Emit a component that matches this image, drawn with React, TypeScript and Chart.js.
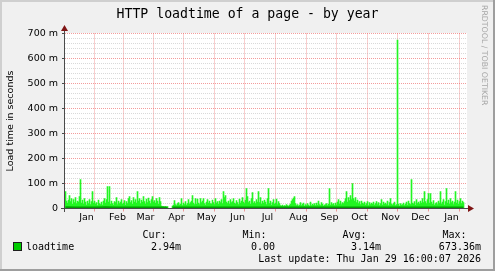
import React, { useEffect, useRef } from "react";
import { Chart, registerables } from "chart.js";

Chart.register(...registerables);

const W = 495;
const H = 271;

const TITLE = "HTTP loadtime of a page - by year";
const Y_AXIS_TITLE = "Load time in seconds";
const WATERMARK = "RRDTOOL / TOBI OETIKER";

// day numbers counted from 26 Dec 2024
const MONTH_START_DAYS = [6, 37, 65, 96, 126, 157, 187, 218, 249, 279, 310, 340, 371, 402];
const MONTH_LABELS = ["Jan", "Feb", "Mar", "Apr", "May", "Jun", "Jul", "Aug", "Sep", "Oct", "Nov", "Dec", "Jan"];
const X_MAX_DAY = 402;

const Y_MAX = 700;
const Y_STEP = 20;
const Y_MAJOR = 100;

// daily maximum load time (ms), day 0 = 26 Dec 2024
const MAX_LOADTIME: (number | null)[] = [
  68, 30, 22, 34, 52, 28, 40, 18, 36, 24,
  44, 20, 30, 26, 48, 116, 22, 34, 18, 40,
  26, 14, 30, 20, 36, 16, 28, 68, 22, 30,
  18, 24, 12, 34, 20, 16, 26, 14, 30, 40,
  22, 36, 88, 26, 88, 18, 30, 20, 14, 28,
  24, 44, 16, 30, 20, 26, 36, 18, 22, 32,
  14, 28, 20, 40, 48, 24, 32, 18, 44, 26,
  36, 22, 68, 30, 40, 20, 34, 26, 48, 28,
  18, 38, 24, 42, 30, 20, 36, 48, 26, 32,
  22, 40, 30, 18, 44, 28, 10, 8, 8, 6,
  8, 6, 8, null, null, null, null, 10, 14, 32,
  16, 12, 20, 24, 14, 18, 40, 12, 22, 16,
  28, 14, 20, 36, 18, 24, 30, 52, 22, 16,
  40, 18, 38, 22, 16, 40, 24, 30, 40, 20,
  14, 26, 36, 22, 30, 20, 18, 34, 24, 16,
  40, 22, 28, 18, 30, 24, 36, 20, 68, 44,
  52, 26, 20, 30, 18, 36, 24, 28, 40, 22,
  18, 32, 24, 16, 38, 22, 30, 44, 26, 20,
  34, 80, 48, 24, 30, 18, 40, 64, 22, 28,
  20, 36, 26, 68, 24, 44, 18, 30, 22, 34,
  26, 16, 40, 80, 20, 30, 14, 24, 36, 18,
  22, 38, 16, 28, 20, 12, 10, 14, 8, 12,
  10, 16, 12, 8, 14, 18, 30, 36, 42, 48,
  20, 12, 16, 10, 14, 24, 12, 18, 22, 10,
  16, 12, 20, 14, 10, 26, 12, 18, 14, 20,
  12, 22, 14, 30, 16, 12, 24, 18, 10, 14,
  16, 20, 12, 18, 80, 14, 24, 16, 20, 12,
  22, 14, 26, 36, 18, 30, 16, 24, 20, 28,
  40, 68, 26, 44, 32, 52, 36, 100, 40, 30,
  44, 24, 34, 20, 28, 16, 30, 22, 18, 26,
  14, 20, 28, 12, 24, 16, 22, 18, 26, 14,
  20, 28, 16, 24, 12, 20, 36, 14, 26, 18,
  22, 16, 30, 12, 24, 40, 18, 14, 20, 26,
  12, 16, 673.36, 18, 10, 20, 14, 16, 22, 12,
  18, 26, 14, 30, 20, 16, 116, 22, 18, 28,
  14, 36, 20, 26, 18, 30, 22, 40, 24, 68,
  28, 20, 36, 60, 22, 60, 26, 18, 32, 14,
  20, 24, 16, 30, 22, 68, 18, 26, 36, 14,
  28, 80, 22, 34, 18, 40, 24, 30, 16, 26,
  68, 22, 34, 18, 28, 40, 20, 30, 24,
];

// average load time (ms)
const AVG_DAYS = [0, 10, 20, 30, 40, 50, 60, 70, 80, 90, 100, 102, 104, 107,
  110, 120, 130, 140, 150, 160, 170, 180, 190, 200, 210, 220, 230, 240, 250, 260,
  270, 280, 290, 300, 310, 320, 330, 340, 350, 360, 370, 380, 390, 398];
const AVG_LOADTIME: (number | null)[] = [3.6, 3.3, 3.1, 3.4, 3.7, 3.2, 3.3, 3.5, 3.4, 3.1, 2.6, 2.4, null, 2.7,
  2.9, 3.0, 3.2, 3.0, 3.1, 3.3, 3.0, 3.4, 3.2, 3.1, 2.9, 2.7, 2.8, 2.6, 2.8, 2.9,
  3.0, 3.5, 3.3, 3.0, 2.9, 3.0, 3.1, 3.2, 3.0, 3.3, 3.1, 3.2, 3.0, 2.94];

const LEGEND_SERIES = "loadtime";
const LEGEND_HEADERS = ["Cur:", "Min:", "Avg:", "Max:"];
const LEGEND_VALUES = ["2.94m", "0.00", "3.14m", "673.36m"];
const LAST_UPDATE = "Last update: Thu Jan 29 16:00:07 2026";

const MAX_COLOR = "#22F522";
const AVG_COLOR = "#00A000";
const MGRID = "rgba(235, 90, 90, 0.6)";
const GRID = "rgba(170, 170, 170, 0.45)";
const AXIS_COLOR = "#4A4A4A";
const ARROW_COLOR = "#7F1515";

const MONO = "'DejaVu Sans Mono', monospace";
const SANS = "'DejaVu Sans', sans-serif";

export default function App() {
  const ref = useRef<HTMLCanvasElement | null>(null);

  useEffect(() => {
    if (!ref.current) return;
    const midDays = MONTH_START_DAYS.slice(0, MONTH_LABELS.length).map((d) => d + 15.5);
    const labelByValue = new Map<number, string>();
    midDays.forEach((d, i) => labelByValue.set(d, MONTH_LABELS[i]));
    const startSet = new Set(MONTH_START_DAYS);

    const decor = {
      id: "rrdDecor",
      beforeDraw(chart: any) {
        const { ctx, chartArea: ca } = chart;
        ctx.save();
        ctx.fillStyle = "#F0F0F0";
        ctx.fillRect(0, 0, W, H);
        ctx.fillStyle = "#CFCFCF";
        ctx.fillRect(0, 0, W, 2);
        ctx.fillRect(0, 0, 2, H);
        ctx.fillStyle = "#9E9E9E";
        ctx.fillRect(0, H - 2, W, 2);
        ctx.fillRect(W - 2, 0, 2, H);
        ctx.fillStyle = "#FFFFFF";
        const top = Math.floor(ca.top);
        ctx.fillRect(ca.left, top, ca.right - ca.left, ca.bottom - top);
        ctx.restore();
      },
      afterDatasetsDraw(chart: any) {
        const { ctx, chartArea: ca } = chart;
        const x0 = Math.round(ca.left) - 1;
        const yb = Math.floor(ca.bottom);
        ctx.save();
        ctx.fillStyle = AXIS_COLOR;
        ctx.fillRect(x0 - 3, yb, ca.right - x0 + 5, 1);
        ctx.fillRect(x0, Math.floor(ca.top) - 3, 1, yb - Math.floor(ca.top) + 7);
        ctx.fillStyle = ARROW_COLOR;
        ctx.beginPath();
        ctx.moveTo(ca.right + 1, yb - 3);
        ctx.lineTo(ca.right + 7, yb + 0.5);
        ctx.lineTo(ca.right + 1, yb + 4);
        ctx.closePath();
        ctx.fill();
        ctx.beginPath();
        ctx.moveTo(x0 - 3, Math.floor(ca.top) - 2);
        ctx.lineTo(x0 + 0.5, Math.floor(ca.top) - 8);
        ctx.lineTo(x0 + 4, Math.floor(ca.top) - 2);
        ctx.closePath();
        ctx.fill();
        ctx.restore();
      },
      afterDraw(chart: any) {
        const { ctx } = chart;
        ctx.save();
        ctx.fillStyle = "#000000";
        ctx.textBaseline = "alphabetic";
        ctx.font = `13.2px ${MONO}`;
        ctx.textAlign = "center";
        ctx.fillText(TITLE, W / 2, 18);

        ctx.font = `10px ${MONO}`;
        ctx.textAlign = "right";
        const headerRight = [166.5, 266.5, 366.5, 466.5];
        const valueRight = [181, 275, 381, 481];
        LEGEND_HEADERS.forEach((t, i) => ctx.fillText(t, headerRight[i], 237.5));
        LEGEND_VALUES.forEach((t, i) => ctx.fillText(t, valueRight[i], 249.5));
        ctx.fillText(LAST_UPDATE, 481, 261.5);
        ctx.textAlign = "left";
        ctx.fillText(LEGEND_SERIES, 26, 249.5);

        ctx.fillStyle = "#1E1E1E";
        ctx.fillRect(13, 242, 9, 9);
        ctx.fillStyle = "#00CC00";
        ctx.fillRect(14, 243, 7, 7);

        ctx.translate(484, 5);
        ctx.rotate(Math.PI / 2);
        ctx.font = `7.8px ${SANS}`;
        ctx.fillStyle = "#A6A6A6";
        ctx.textAlign = "left";
        ctx.textBaseline = "middle";
        ctx.fillText(WATERMARK, 0, 0);
        ctx.restore();
      },
    };

    const chart = new Chart(ref.current, {
      type: "bar",
      data: {
        datasets: [
          {
            type: "line",
            label: "avg",
            data: AVG_DAYS.map((d, i) => ({ x: d + 0.5, y: AVG_LOADTIME[i] })),
            borderColor: AVG_COLOR,
            borderWidth: 2.5,
            pointRadius: 0,
            tension: 0,
            spanGaps: false,
            order: 0,
          } as any,
          {
            type: "bar",
            label: LEGEND_SERIES,
            data: MAX_LOADTIME.map((v, i) => ({ x: i + 0.5, y: v })),
            backgroundColor: MAX_COLOR,
            borderWidth: 0,
            barThickness: 1,
            order: 1,
          } as any,
        ],
      },
      options: {
        responsive: false,
        animation: false,
        devicePixelRatio: 1,
        events: [],
        layout: { padding: { left: 0, top: 33.5, right: W - 467, bottom: 0 } },
        plugins: {
          legend: { display: false },
          tooltip: { enabled: false },
          title: { display: false },
        },
        scales: {
          x: {
            type: "linear",
            min: 0,
            max: X_MAX_DAY,
            offset: false,
            afterFit: (s: any) => {
              s.height = H - 208.5;
            },
            afterBuildTicks: (s: any) => {
              const vals = [...MONTH_START_DAYS, ...midDays].sort((a, b) => a - b);
              s.ticks = vals.map((v) => ({ value: v }));
            },
            ticks: {
              autoSkip: false,
              maxRotation: 0,
              minRotation: 0,
              padding: 0,
              color: "#000000",
              font: { family: SANS, size: 9.5 },
              callback: (v: any) => labelByValue.get(Number(v)) ?? "",
            },
            grid: {
              drawTicks: true,
              tickLength: 3,
              lineWidth: 1,
              color: (c: any) => (c.tick && startSet.has(c.tick.value) ? MGRID : "rgba(0,0,0,0)"),
              tickColor: (c: any) => (c.tick && startSet.has(c.tick.value) ? MGRID : "rgba(0,0,0,0)"),
            },
            border: { display: false, dash: [1, 1] },
          },
          y: {
            type: "linear",
            min: 0,
            max: Y_MAX,
            afterFit: (s: any) => {
              s.width = 65;
            },
            ticks: {
              stepSize: Y_STEP,
              autoSkip: false,
              padding: 4,
              color: "#000000",
              font: { family: SANS, size: 9.5 },
              callback: (v: any) => {
                const n = Number(v);
                if (n % Y_MAJOR !== 0) return "";
                return n === 0 ? "0" : `${n} m`;
              },
            },
            grid: {
              drawTicks: true,
              tickLength: 3,
              lineWidth: 1,
              color: (c: any) => (c.tick && c.tick.value % Y_MAJOR === 0 ? MGRID : GRID),
              tickColor: (c: any) => (c.tick && c.tick.value % Y_MAJOR === 0 ? AXIS_COLOR : "rgba(0,0,0,0)"),
            },
            border: { display: false, dash: [1, 1] },
            title: {
              display: true,
              text: Y_AXIS_TITLE,
              color: "#000000",
              font: { family: SANS, size: 9.5 },
              padding: { top: 5, bottom: 0 },
            },
          },
        },
      },
      plugins: [decor],
    });
    return () => chart.destroy();
  }, []);

  return (
    <div style={{ position: "absolute", left: 0, top: 0, width: W, height: H }}>
      <canvas ref={ref} width={W} height={H} style={{ display: "block", width: W, height: H }} />
    </div>
  );
}
